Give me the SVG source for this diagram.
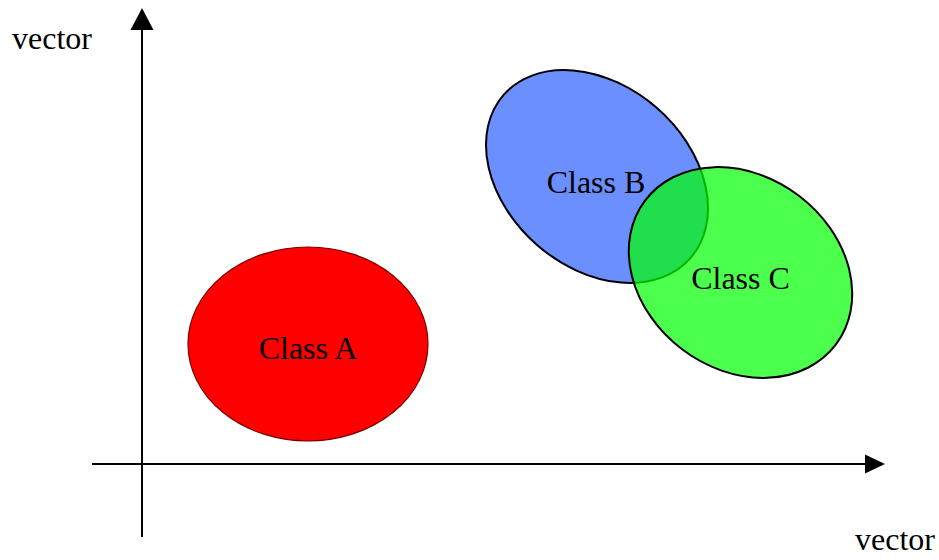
<svg xmlns="http://www.w3.org/2000/svg" width="939" height="560" viewBox="0 0 939 560">
  <style>
    .label { font-family: "Liberation Serif", "Times New Roman", serif; font-size: 32px; fill: #000; }
    .axis { stroke: #000; stroke-width: 2; fill: none; }
    .head { fill: #000; stroke: none; }
  </style>
  <rect width="939" height="560" fill="#fff"/>

  <!-- axes -->
  <g id="connectors">
    <line class="axis" x1="142" y1="537" x2="142" y2="28"/>
    <polygon class="head" points="142,8 130.5,30 153.5,30"/>
    <line class="axis" x1="92" y1="464" x2="866" y2="464"/>
    <polygon class="head" points="885,464 865,454.5 865,473.5"/>
  </g>

  <text class="label" x="12" y="49">vector</text>
  <text class="label" x="855" y="550">vector</text>

  <g id="classA">
    <ellipse cx="308" cy="344" rx="120" ry="97" fill="#ff0000" stroke="#7a0000" stroke-width="1.2"/>
    <text class="label" x="308" y="359" text-anchor="middle">Class A</text>
  </g>

  <g id="classB">
    <ellipse cx="0" cy="0" rx="124" ry="91" transform="translate(597,176.5) rotate(41)" fill="#6b8fff" stroke="#000" stroke-width="2"/>
    <text class="label" x="596" y="193" text-anchor="middle">Class B</text>
  </g>

  <g id="classC">
    <ellipse cx="0" cy="0" rx="119.5" ry="96.5" transform="translate(740.5,272.5) rotate(37)" fill="#00ff00" fill-opacity="0.7" stroke="#000" stroke-width="2"/>
    <text class="label" x="740.5" y="289" text-anchor="middle">Class C</text>
  </g>
</svg>
